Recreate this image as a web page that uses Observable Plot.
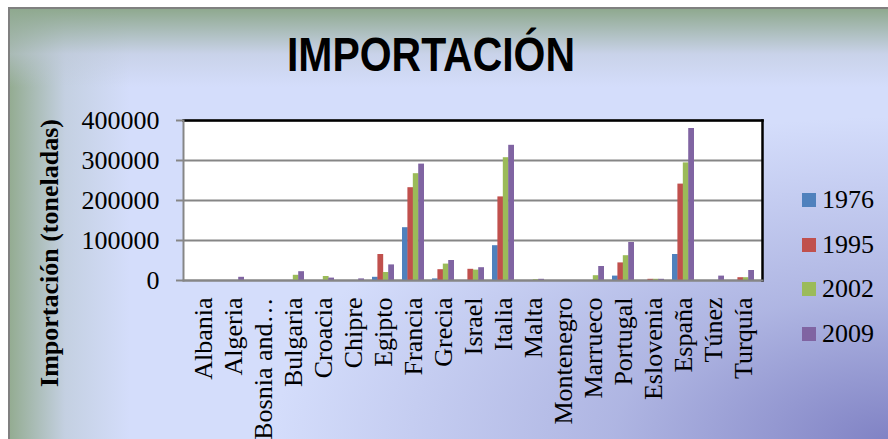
<!DOCTYPE html>
<html>
<head>
<meta charset="utf-8">
<script src="https://cdn.jsdelivr.net/npm/d3@7"></script>
<script src="https://cdn.jsdelivr.net/npm/@observablehq/plot@0.6"></script>
<style>
  html, body { margin: 0; padding: 0; background: #ffffff; }
  #page { position: relative; width: 888px; height: 439px; overflow: hidden; background: #ffffff; }
  #panel {
    position: absolute; left: 8px; top: 7px; width: 880px; height: 432px;
    border-left: 2px solid #808080; border-top: 2px solid #808080;
    background:
      linear-gradient(to bottom, rgba(143,169,143,1) 0px, rgba(190,200,215,0.5) 45px, rgba(212,221,251,0) 78px),
      linear-gradient(to right, rgba(148,172,146,1) 0px, rgba(180,195,200,0.5) 55px, rgba(212,221,251,0) 120px),
      radial-gradient(ellipse 70% 75% at 100% 100%, rgba(128,130,196,1) 0%, rgba(150,155,210,0.6) 45%, rgba(190,198,240,0) 100%),
      #d4ddfb;
  }
  #chart { position: absolute; left: 0; top: 0; }
  #title {
    position: absolute; top: 31px; left: 431px; white-space: nowrap;
    font-family: "Liberation Sans", Arial, sans-serif; font-weight: bold;
    font-size: 48px; line-height: 48px; color: #000;
  }
  #ytitle {
    position: absolute; left: 50px; top: 253px; white-space: nowrap;
    font-family: "Liberation Serif", "Times New Roman", serif; font-weight: bold;
    font-size: 26px; line-height: 26px; color: #000;
    transform: translate(-50%, -50%) rotate(-90deg);
  }
  .legend-item { position: absolute; left: 802px; height: 26px; display: flex; align-items: center; }
  .legend-swatch { width: 14px; height: 14px; margin-right: 6px; }
  .legend-label { font-family: "Liberation Serif", "Times New Roman", serif; font-size: 26px; line-height: 26px; color: #000; }
</style>
</head>
<body>
<div id="page">
  <div id="panel"></div>
  <div id="chart"></div>
  <div id="title"><span id="titleText">IMPORTACIÓN</span></div>
  <div id="ytitle">Importación (toneladas)</div>
</div>
<script>
// Import volumes (tonnes) by country and year
const countries = ["Albania", "Algeria", "Bosnia and…", "Bulgaria", "Croacia", "Chipre", "Egipto", "Francia", "Grecia", "Israel", "Italia", "Malta", "Montenegro", "Marrueco", "Portugal", "Eslovenia", "España", "Túnez", "Turquía"];
const years = ["1976", "1995", "2002", "2009"];
const v1976 = [0, 0, 0, 0, 0, 0, 8000, 132000, 4000, 0, 87000, 0, 0, 0, 11000, 0, 65000, 0, 0];
const v1995 = [0, 0, 0, 0, 0, 0, 65000, 232000, 27000, 28000, 209000, 0, 0, 0, 44000, 3000, 241000, 0, 7000];
const v2002 = [0, 0, 0, 13000, 10000, 0, 20000, 267000, 41000, 26000, 307000, 2000, 0, 12000, 62000, 3000, 294000, 0, 7000];
const v2009 = [0, 8000, 0, 22000, 6000, 4000, 39000, 291000, 50000, 32000, 338000, 3000, 0, 35000, 95000, 3000, 380000, 11000, 25000];
const yTicks = [0, 100000, 200000, 300000, 400000];
const colors = ["#4f81bd", "#c0504d", "#9bbb59", "#8064a2"];

const seriesValues = [v1976, v1995, v2002, v2009];
const series = years.map((year, i) => countries.map((country, j) => ({country, year, value: seriesValues[i][j]})));

// Each year's bar occupies a quarter of the country's band
const bandPadding = 0.28;
const bandwidth = 579 / (countries.length - bandPadding + 2 * bandPadding) * (1 - bandPadding);
const barW = bandwidth / years.length;

const bars = series.map((rows, i) => Plot.barY(rows, {
  x: "country", y: "value", fill: colors[i],
  insetLeft: i * barW, insetRight: (years.length - 1 - i) * barW
}));

const chart = Plot.plot({
  width: 888,
  height: 439,
  marginLeft: 183,
  marginRight: 126,
  marginTop: 120,
  marginBottom: 159,
  style: {background: "transparent", fontFamily: "'Liberation Serif', 'Times New Roman', serif", fontSize: "26px", color: "black"},
  x: {type: "band", domain: countries, padding: bandPadding, label: null},
  y: {domain: [0, 400000], label: null},
  marks: [
    Plot.frame({fill: "white", stroke: "none"}),
    Plot.gridY(yTicks, {stroke: "#868686", strokeOpacity: 1, strokeWidth: 2}),
    ...bars,
    Plot.frame({anchor: "top", stroke: "black", strokeWidth: 2.5}),
    Plot.frame({anchor: "right", stroke: "black", strokeWidth: 2.5}),
    Plot.frame({anchor: "left", stroke: "#868686", strokeWidth: 2}),
    Plot.frame({anchor: "bottom", stroke: "#868686", strokeWidth: 2}),
    Plot.axisY(yTicks, {tickSize: 7, tickPadding: 17, stroke: "#868686", strokeWidth: 2, fill: "black", fontSize: 26, tickFormat: d => String(d), label: null}),
    Plot.axisX({tickRotate: -90, tickSize: 0, tickPadding: 17, fill: "black", fontSize: 26, label: null})
  ]
});
document.getElementById("chart").appendChild(chart);

// Legend on the right
const page = document.getElementById("page");
years.forEach((year, i) => {
  const item = document.createElement("div");
  item.className = "legend-item";
  item.style.top = (187 + i * 44.7) + "px";
  const sw = document.createElement("div");
  sw.className = "legend-swatch";
  sw.style.background = colors[i];
  const lab = document.createElement("span");
  lab.className = "legend-label";
  lab.textContent = year;
  item.appendChild(sw);
  item.appendChild(lab);
  page.appendChild(item);
});

// Condense the title to its intended width and center it
const t = document.getElementById("title");
const w = document.getElementById("titleText").getBoundingClientRect().width;
const target = 288;
t.style.transformOrigin = "0 0";
t.style.transform = `translateX(${-target / 2}px) scaleX(${target / w})`;
</script>
</body>
</html>
